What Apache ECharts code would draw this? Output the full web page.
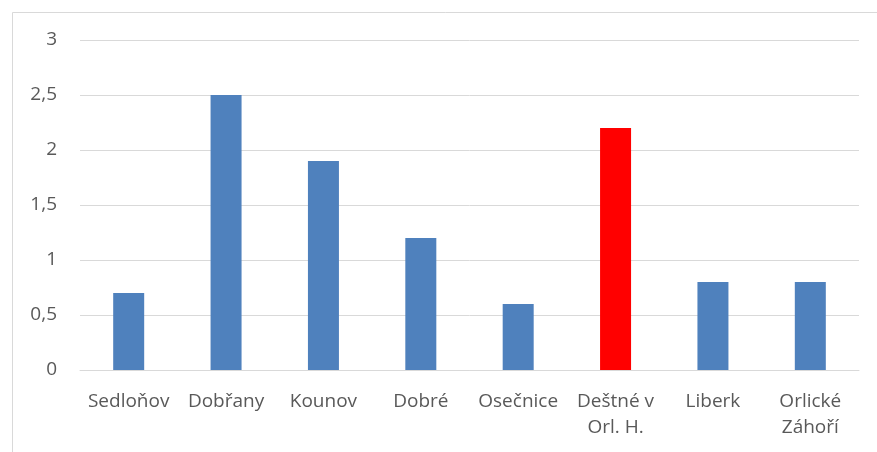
<!DOCTYPE html>
<html>
<head>
<meta charset="utf-8">
<script src="https://cdn.jsdelivr.net/npm/echarts@6/dist/echarts.min.js"></script>
<style>html,body{margin:0;padding:0;background:#fff;}#c{width:877px;height:452px;}</style>
</head>
<body>
<div id="c"></div>
<script>
const categories = ['Sedloňov', 'Dobřany', 'Kounov', 'Dobré', 'Osečnice', 'Deštné v\nOrl. H.', 'Liberk', 'Orlické\nZáhoří'];
const values = [0.7, 2.5, 1.9, 1.2, 0.6, 2.2, 0.8, 0.8];
const highlighted = ['Deštné v\nOrl. H.'];
const blue = '#4f81bd';
const red = '#ff0000';

const chart = echarts.init(document.getElementById('c'), null, {renderer: 'canvas'});
const font = '"Open Sans", "Noto Sans", sans-serif';
chart.setOption({
  animation: false,
  backgroundColor: '#fff',
  graphic: [{
    type: 'rect', left: 10, top: 10, z: -1,
    shape: {width: 900, height: 500},
    style: {fill: 'none', stroke: '#d9d9d9', lineWidth: 1}
  }],
  grid: {left: 80, right: 18, top: 40, bottom: 82, containLabel: false},
  xAxis: {
    type: 'category',
    data: categories,
    axisLine: {show: true, lineStyle: {color: '#d9d9d9', width: 1}},
    axisTick: {show: false},
    axisLabel: {color: '#595959', fontSize: 19, fontFamily: font, margin: 19, lineHeight: 26, interval: 0}
  },
  yAxis: {
    type: 'value',
    min: 0, max: 3, interval: 0.5,
    axisLine: {show: false},
    axisTick: {show: false},
    splitLine: {lineStyle: {color: '#d9d9d9', width: 1}},
    axisLabel: {color: '#595959', fontSize: 19, fontFamily: font, margin: 23,
      formatter: v => String(v).replace('.', ',')}
  },
  series: [{
    type: 'bar',
    data: values.map((v, i) => ({value: v, itemStyle: {color: highlighted.includes(categories[i]) ? red : blue}})),
    barWidth: 31
  }]
});
</script>
</body>
</html>
